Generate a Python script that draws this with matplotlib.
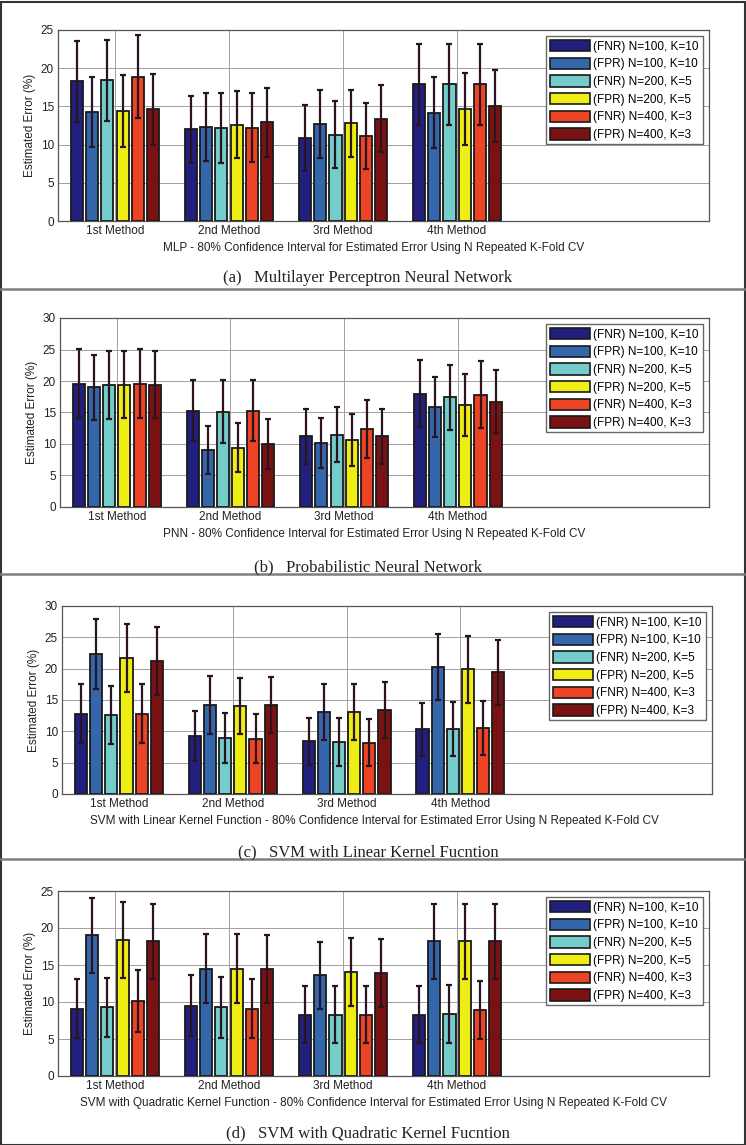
import numpy as np
import matplotlib
matplotlib.use("Agg")
import matplotlib.pyplot as plt
from matplotlib.patches import Patch
from matplotlib.lines import Line2D

plt.rcParams["font.family"] = ["Liberation Sans", "DejaVu Sans"]

methods = ["1st Method", "2nd Method", "3rd Method", "4th Method"]
series = ["(FNR) N=100, K=10", "(FPR) N=100, K=10", "(FNR) N=200, K=5",
          "(FPR) N=200, K=5", "(FNR) N=400, K=3", "(FPR) N=400, K=3"]
colors = ["#21207f", "#3466ab", "#74cdcb", "#eeee14", "#ec4424", "#7a1214"]

# mean estimated error, rows = methods, cols = series
mlp_mean = [[18.3, 14.3, 18.4, 14.4, 18.9, 14.6],
            [12.0, 12.3, 12.2, 12.6, 12.2, 12.9],
            [10.9, 12.7, 11.3, 12.8, 11.1, 13.4],
            [17.9, 14.2, 17.9, 14.7, 17.9, 15.1]]
mlp_err = [[5.3, 4.6, 5.3, 4.7, 5.4, 4.7],
           [4.4, 4.5, 4.6, 4.4, 4.5, 4.5],
           [4.3, 4.4, 4.4, 4.4, 4.3, 4.4],
           [5.3, 4.6, 5.3, 4.7, 5.3, 4.7]]

pnn_mean = [[19.6, 19.0, 19.4, 19.4, 19.6, 19.4],
            [15.3, 9.1, 15.1, 9.4, 15.3, 10.0],
            [11.2, 10.2, 11.5, 10.6, 12.4, 11.2],
            [18.0, 15.9, 17.4, 16.2, 17.8, 16.7]]
pnn_err = [[5.5, 5.2, 5.4, 5.3, 5.5, 5.3],
           [4.9, 3.8, 5.0, 3.9, 4.9, 3.9],
           [4.4, 4.0, 4.4, 4.1, 4.6, 4.3],
           [5.3, 4.8, 5.2, 4.9, 5.3, 5.0]]

svl_mean = [[12.8, 22.3, 12.6, 21.7, 12.8, 21.2],
            [9.2, 14.2, 9.0, 14.0, 8.8, 14.2],
            [8.4, 13.1, 8.3, 13.1, 8.2, 13.4],
            [10.3, 20.3, 10.4, 19.9, 10.6, 19.4]]
svl_err = [[4.7, 5.6, 4.6, 5.5, 4.7, 5.4],
           [4.0, 4.6, 4.0, 4.5, 3.9, 4.5],
           [3.8, 4.5, 3.8, 4.5, 3.8, 4.5],
           [4.3, 5.3, 4.3, 5.3, 4.3, 5.2]]

svq_mean = [[9.1, 19.0, 9.3, 18.4, 10.1, 18.2],
            [9.5, 14.5, 9.3, 14.5, 9.1, 14.4],
            [8.3, 13.6, 8.3, 14.1, 8.3, 13.9],
            [8.3, 18.2, 8.4, 18.2, 8.9, 18.2]]
svq_err = [[4.0, 5.1, 4.0, 5.1, 4.2, 5.1],
           [4.1, 4.7, 4.1, 4.7, 4.0, 4.6],
           [3.8, 4.5, 3.8, 4.6, 3.8, 4.6],
           [3.8, 5.1, 3.9, 5.1, 3.9, 5.1]]

panels = [
    (mlp_mean, mlp_err, 25, "MLP - 80% Confidence Interval for Estimated Error Using N Repeated K-Fold CV",
     "(a)   Multilayer Perceptron Neural Network", (58, 709, 30, 221), 248, 278),
    (pnn_mean, pnn_err, 30, "PNN - 80% Confidence Interval for Estimated Error Using N Repeated K-Fold CV",
     "(b)   Probabilistic Neural Network", (60, 709, 318, 507), 534, 567),
    (svl_mean, svl_err, 30, "SVM with Linear Kernel Function - 80% Confidence Interval for Estimated Error Using N Repeated K-Fold CV",
     "(c)   SVM with Linear Kernel Fucntion", (62, 712, 606, 794), 821, 852),
    (svq_mean, svq_err, 25, "SVM with Quadratic Kernel Function - 80% Confidence Interval for Estimated Error Using N Repeated K-Fold CV",
     "(d)   SVM with Quadratic Kernel Fucntion", (58, 709, 891, 1076), 1103, 1133),
]

W, H = 746, 1145
fig = plt.figure(figsize=(W / 100, H / 100), dpi=100)

n_ser = len(series)
group_w = 0.8
step = group_w / n_ser
bar_w = step * 0.8
x = np.arange(1, len(methods) + 1)

for mean, err, ymax, xlab, cap, (l, r, t, b), xl_y, cap_y in panels:
    ax = fig.add_axes([l / W, 1 - b / H, (r - l) / W, (b - t) / H])
    mean = np.array(mean)
    err = np.array(err)
    for j in range(n_ser):
        pos = x + (j - (n_ser - 1) / 2) * step
        ax.bar(pos, mean[:, j], width=bar_w, color=colors[j], edgecolor="#1a1a1a",
               linewidth=1.3, zorder=3)
        ax.errorbar(pos, mean[:, j], yerr=err[:, j], fmt="none", ecolor="#2a1420",
                    elinewidth=1.6, capsize=2.5, capthick=1.6, zorder=4)
    ax.set_xlim(0.5, 6.21)
    ax.set_ylim(0, ymax)
    ax.set_xticks(x)
    ax.set_xticklabels(methods, fontsize=8.5)
    ax.set_yticks(np.arange(0, ymax + 1, 5))
    ax.tick_params(labelsize=8.5, length=0, pad=3, colors="#222222")
    ax.grid(True, color="#a0a0a0", linewidth=0.7, zorder=0)
    ax.set_axisbelow(True)
    for s in ax.spines.values():
        s.set_color("#555555")
        s.set_linewidth(0.9)
    ax.set_ylabel("Estimated Error (%)", fontsize=8.5, color="#222222", labelpad=3)
    handles = [Patch(facecolor=c, edgecolor="#1a1a1a", linewidth=1.2) for c in colors]
    ax.legend(handles, series, loc="upper right", fontsize=8.5, frameon=True,
              fancybox=False, framealpha=1, edgecolor="#666666",
              handlelength=3.4, handleheight=1.1, labelspacing=0.42,
              handletextpad=0.3, borderpad=0.3, borderaxespad=0.55)
    fig.text(374 / W, 1 - xl_y / H, xlab, ha="center", va="center", fontsize=8.5,
             color="#222222")
    fig.text(368 / W, 1 - cap_y / H, cap, ha="center", va="center", fontsize=12,
             family="Liberation Serif", color="#222222")

# panel frames
fig.add_artist(plt.Rectangle((0.5 / W, 0.5 / H), (W - 2) / W, (H - 2) / H, transform=fig.transFigure,
                             fill=False, edgecolor="#333333", linewidth=1.5))
for yy in [289, 574, 859]:
    fig.add_artist(Line2D([1 / W, (W - 2) / W], [1 - yy / H, 1 - yy / H], transform=fig.transFigure,
                          color="#807c86", linewidth=1.8))

fig.savefig("out.png", dpi=100)
